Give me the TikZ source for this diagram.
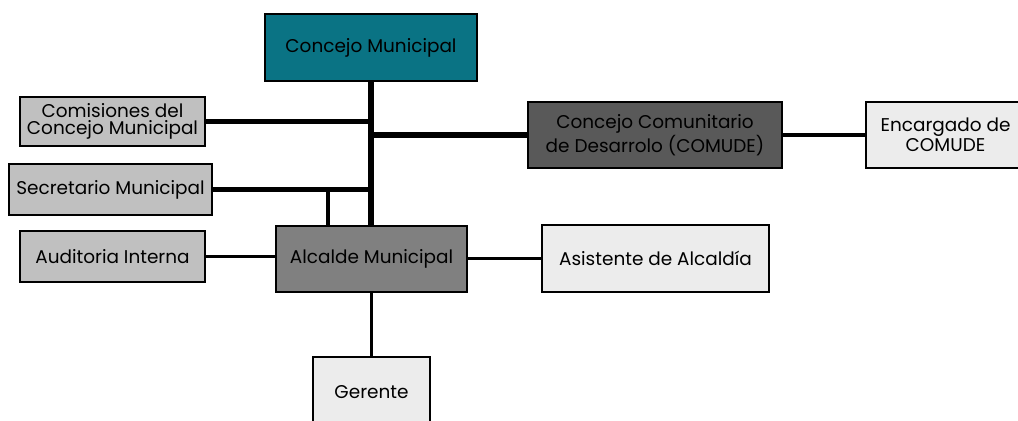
\documentclass[tikz,border=0pt]{standalone}
\usepackage{fontspec}
\setmainfont{Poppins}
\usetikzlibrary{positioning}
\definecolor{teal1}{HTML}{0A7384}
\definecolor{gris1}{HTML}{C0C0C0}
\definecolor{gris2}{HTML}{808080}
\definecolor{gris3}{HTML}{595959}
\definecolor{gris4}{HTML}{ECECEC}

\begin{document}
\begin{tikzpicture}[x=0.02cm, y=-0.02cm]
\tikzstyle{every node} = [rectangle, draw=black, line width=1.6pt, inner sep=0pt, align=center, font=\fontsize{10.5}{9.5}\selectfont]
\tikzstyle{grueso} = [line width=3.4pt]
\tikzstyle{fino} = [line width=2.2pt]
\useasboundingbox (0,0) rectangle (1018,420);
\node[fill=teal1, minimum width=4.24cm, minimum height=1.34cm] (cm) at (371,47.5) {Concejo Municipal};
\node[fill=gris1, minimum width=3.7cm, minimum height=0.98cm] (com) at (112.5,121.5) {Comisiones del\\Concejo Municipal};
\node[fill=gris1, minimum width=4.06cm, minimum height=1.02cm] (sec) at (110.5,189.5) {Secretario Municipal};
\node[fill=gris1, minimum width=3.7cm, minimum height=1.02cm] (aud) at (112.5,256.5) {Auditoria Interna};
\node[fill=gris2, minimum width=3.82cm, minimum height=1.32cm] (alc) at (371.5,259) {Alcalde Municipal};
\node[fill=gris4, minimum width=2.34cm, minimum height=1.4cm] (ger) at (371.5,392) {Gerente};
\node[fill=gris3, minimum width=5.08cm, minimum height=1.32cm] (comude) at (655,135) {Concejo Comunitario\\de Desarrolo (COMUDE)};
\node[fill=gris4, minimum width=3.18cm, minimum height=1.32cm] (enc) at (945.5,135) {Encargado de\\COMUDE};
\node[fill=gris4, minimum width=4.54cm, minimum height=1.34cm] (asi) at (655.5,258.5) {Asistente de Alcaldía};
\coordinate (k) at (328,190);
% tronco
\draw[grueso] (cm.south) -- (cm.south |- alc.north);
\draw[grueso] (com.east) -- (com.east -| cm.south);
\draw[grueso] (sec.east) -- (sec.east -| cm.south);
\draw[grueso] (comude.west) -- (comude.west -| cm.south);
\draw[fino] (k) -- (k |- alc.north);
% ramas
\draw[fino] (aud.east) -- (alc.west |- aud.east);
\draw[fino] (alc.east |- asi.west) -- (asi.west);
\draw[fino] (comude.east) -- (enc.west);
\draw[fino] (alc.south) -- (alc.south |- ger.north);
\end{tikzpicture}
\end{document}
